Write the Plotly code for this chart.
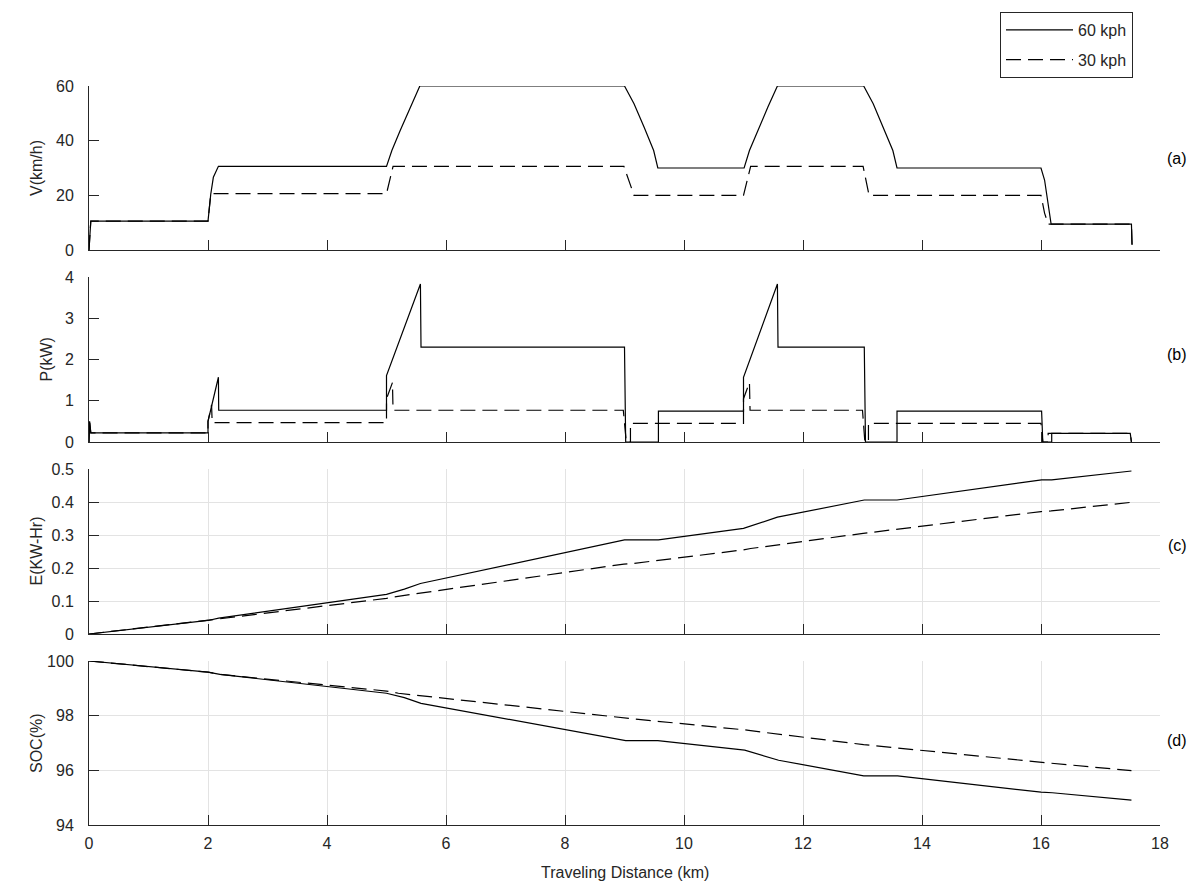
import plotly.graph_objects as go

# ---------------- data ----------------
# (a) speed profile, km/h
dist_v60 = [0, 0.03, 2.0, 2.046, 2.09, 2.175, 5.0, 5.09, 5.23, 5.40, 5.56, 9.0, 9.16, 9.33, 9.49, 9.56,
            11.01, 11.10, 11.24, 11.41, 11.57, 13.02, 13.18, 13.35, 13.51, 13.58,
            16.0, 16.06, 16.11, 16.17, 17.52, 17.53]
v60 = [0, 10.6, 10.6, 20.4, 26.6, 30.6, 30.6, 36.4, 43.7, 52.3, 60, 60, 53.5, 44.9, 36.4, 30.0,
       30.0, 36.4, 43.7, 52.3, 60, 60, 53.5, 44.9, 36.4, 30.0,
       30.0, 25.6, 18.3, 9.5, 9.5, 1.8]
dist_v30 = [0, 0.03, 2.0, 2.046, 2.09, 5.0, 5.11, 8.99, 9.16, 11.0, 11.12, 13.01, 13.11,
            16.0, 16.06, 16.12, 17.52, 17.53]
v30 = [0, 10.6, 10.6, 20.4, 20.6, 20.6, 30.6, 30.6, 20.0, 20.0, 30.6, 30.6, 20.0,
       20.0, 13.5, 9.5, 9.5, 1.8]

# (b) power, kW
dist_p60 = [0, 0.01, 0.03, 2.0, 2.0, 2.175, 2.18, 5.0, 5.0, 5.57, 5.58, 9.0, 9.02, 9.57, 9.57,
            11.0, 11.0, 11.57, 11.58, 13.03, 13.05, 13.58, 13.58, 16.01, 16.03, 16.18, 16.18, 17.50, 17.52]
p60 = [0, 0.5, 0.22, 0.22, 0.5, 1.57, 0.77, 0.77, 1.61, 3.83, 2.30, 2.30, 0, 0, 0.75,
       0.75, 1.57, 3.83, 2.30, 2.30, 0, 0, 0.75, 0.75, 0, 0, 0.21, 0.21, 0]
dist_p30 = [0, 0.01, 0.03, 2.0, 2.0, 2.06, 2.07, 5.0, 5.0, 5.10, 5.11, 8.98, 9.03, 9.10, 9.10,
            11.0, 11.0, 11.10, 11.11, 13.0, 13.04, 13.10, 13.10, 16.0, 16.03, 16.12, 16.12, 17.50, 17.52]
p30 = [0, 0.5, 0.22, 0.22, 0.5, 0.90, 0.47, 0.47, 1.05, 1.44, 0.77, 0.77, 0, 0, 0.45,
       0.45, 1.05, 1.44, 0.77, 0.77, 0, 0, 0.45, 0.45, 0, 0, 0.21, 0.21, 0]

# (c) energy, kWh
dist_e60 = [0, 2.0, 2.18, 5.0, 5.3, 5.57, 9.0, 9.57, 11.0, 11.3, 11.57, 13.03, 13.58, 16.01, 16.18, 17.52]
e60 = [0, 0.041, 0.048, 0.120, 0.136, 0.153, 0.285, 0.285, 0.320, 0.337, 0.354, 0.406, 0.406, 0.467, 0.467, 0.494]
dist_e30 = [0, 2.0, 2.1, 5.0, 5.11, 8.99, 9.16, 11.0, 11.12, 13.01, 13.11, 16.0, 16.17, 17.52]
e30 = [0, 0.041, 0.044, 0.108, 0.112, 0.212, 0.214, 0.255, 0.259, 0.305, 0.307, 0.371, 0.373, 0.399]

# (d) state of charge, %
dist_s60 = [0, 2.0, 2.2, 5.0, 5.3, 5.58, 9.02, 9.56, 11.02, 11.3, 11.59, 13.02, 13.59, 16.0, 16.19, 17.52]
s60 = [100, 99.59, 99.51, 98.82, 98.66, 98.45, 97.09, 97.09, 96.74, 96.56, 96.37, 95.80, 95.80, 95.20, 95.18, 94.91]
dist_s30 = [0, 2.0, 2.2, 5.0, 5.2, 9.0, 9.16, 11.02, 11.12, 13.02, 13.11, 16.0, 16.17, 17.52]
s30 = [100, 99.59, 99.51, 98.90, 98.82, 97.90, 97.88, 97.48, 97.45, 96.94, 96.92, 96.28, 96.26, 95.99]

series_names = ["60 kph", "30 kph"]
panel_tags = ["(a)", "(b)", "(c)", "(d)"]
panel_ylabels = ["V(km/h)", "P(kW)", "E(KW-Hr)", "SOC(%)"]
x_ticks = [0, 2, 4, 6, 8, 10, 12, 14, 16, 18]
y_ticks = [[0, 20, 40, 60], [0, 1, 2, 3, 4], [0, 0.1, 0.2, 0.3, 0.4, 0.5], [94, 96, 98, 100]]
y_ticktext = [["0", "20", "40", "60"], ["0", "1", "2", "3", "4"],
              ["0", "0.1", "0.2", "0.3", "0.4", "0.5"], ["94", "96", "98", "100"]]
y_ranges = [[0, 60], [0, 4], [0, 0.5], [94, 100]]
x_title = "Traveling Distance (km)"

# ---------------- layout geometry (pixels) ----------------
W, H = 1192, 884
AX_L, AX_R, AX_T, AX_B = 89, 1160, 86, 825          # plot area
L, R, T, B = AX_L, W - AX_R, AX_T, H - AX_B
PH = AX_B - AX_T
panel_px = [(86, 250), (277, 442), (469, 634), (661, 825)]   # top, bottom rows
grid_on = [False, False, True, True]
INK = "#262626"
FONT = "Liberation Sans, Arial, Helvetica, sans-serif"
FS = 16


def ypaper(py):
    return (AX_B - py) / PH


def xpaper(px):
    return (px - AX_L) / (AX_R - AX_L)


fig = go.Figure()
data = [
    (dist_v60, v60, dist_v30, v30),
    (dist_p60, p60, dist_p30, p30),
    (dist_e60, e60, dist_e30, e30),
    (dist_s60, s60, dist_s30, s30),
]
for i, (xs, ys, xd, yd) in enumerate(data):
    suf = "" if i == 0 else str(i + 1)
    fig.add_trace(go.Scatter(x=xs, y=ys, mode="lines", name=series_names[0],
                             legendgroup="s60",
                             line=dict(color="black", width=1.2),
                             xaxis="x" + suf, yaxis="y" + suf, showlegend=(i == 0)))
    fig.add_trace(go.Scatter(x=xd, y=yd, mode="lines", name=series_names[1],
                             legendgroup="s30",
                             line=dict(color="black", width=1.2, dash="15px,7px"),
                             xaxis="x" + suf, yaxis="y" + suf, showlegend=(i == 0)))

layout = dict(
    width=W, height=H,
    margin=dict(l=L, r=R, t=T, b=B, pad=0, autoexpand=False),
    paper_bgcolor="white", plot_bgcolor="white",
    font=dict(family=FONT, size=FS, color=INK),
    showlegend=True,
    legend=dict(x=xpaper(1000), y=ypaper(12), xanchor="left", yanchor="top",
                bordercolor=INK, borderwidth=1, bgcolor="white",
                font=dict(family=FONT, size=FS, color=INK), itemwidth=67,
                tracegroupgap=6),
)

annotations = []
tag_y = [159, 354, 545, 740]
for i in range(4):
    suf = "" if i == 0 else str(i + 1)
    top, bot = panel_px[i]
    dom = [ypaper(bot), ypaper(top)]
    layout["xaxis" + suf] = dict(
        domain=[0, 1], anchor="y" + suf, range=[0, 18], tickvals=x_ticks,
        ticks="inside", ticklen=10, tickwidth=1, tickcolor=INK,
        showline=True, linecolor=INK, linewidth=1, zeroline=False,
        showgrid=grid_on[i], gridcolor="#e3e3e3", gridwidth=1,
        showticklabels=(i == 3), ticklabelstandoff=4,
        tickfont=dict(family=FONT, size=FS, color=INK),
    )
    layout["yaxis" + suf] = dict(
        domain=dom, anchor="x" + suf, range=y_ranges[i], tickvals=y_ticks[i],
        ticktext=y_ticktext[i],
        ticks="inside", ticklen=10, tickwidth=1, tickcolor=INK,
        showline=True, linecolor=INK, linewidth=1, zeroline=False,
        showgrid=grid_on[i], gridcolor="#e3e3e3", gridwidth=1,
        ticklabelstandoff=11,
        tickfont=dict(family=FONT, size=FS, color=INK),
    )
    annotations.append(dict(text=panel_tags[i], xref="paper", yref="paper",
                            x=xpaper(1177), y=ypaper(tag_y[i]), showarrow=False,
                            xanchor="center", yanchor="middle",
                            font=dict(family=FONT, size=FS, color="black")))
title_x = [36, 46, 36, 36]
for i in range(4):
    top, bot = panel_px[i]
    mid = (top + bot) / 2
    annotations.append(dict(text=panel_ylabels[i], xref="paper", yref="paper",
                            x=xpaper(title_x[i]), y=ypaper(mid), showarrow=False,
                            textangle=-90, xanchor="center", yanchor="middle",
                            font=dict(family=FONT, size=FS, color=INK)))
annotations.append(dict(text=x_title, xref="paper", yref="paper",
                        x=0.5, y=ypaper(873), showarrow=False,
                        xanchor="center", yanchor="middle",
                        font=dict(family=FONT, size=FS, color=INK)))
layout["annotations"] = annotations
fig.update_layout(**layout)
# remove the browser's default 8px page margin so the figure fills the window exactly
fig.write_html("out.html", config={"displayModeBar": False},
               post_script="document.body.style.margin='0';")
